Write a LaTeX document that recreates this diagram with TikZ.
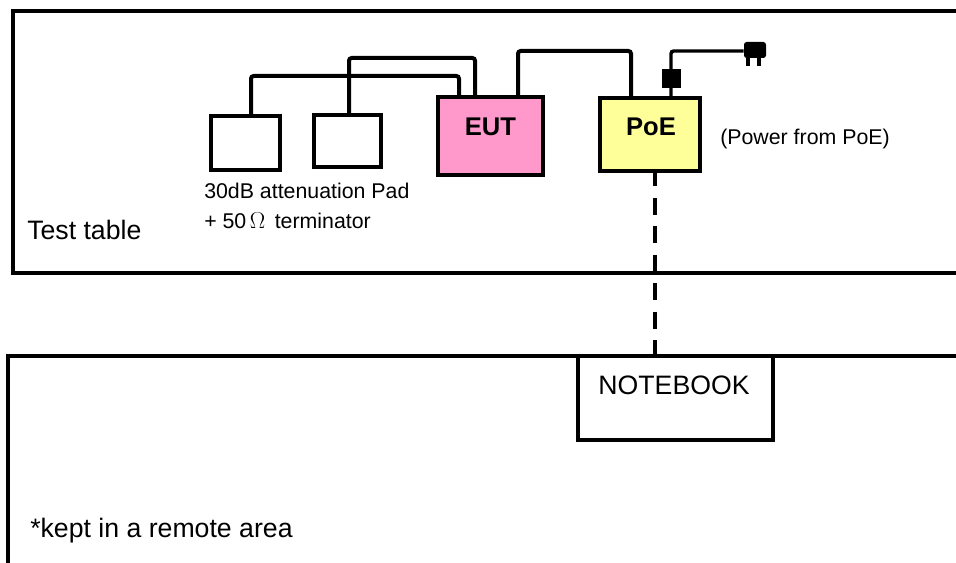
\documentclass[tikz,border=0pt]{standalone}
\usepackage{fontspec}
\setmainfont{Liberation Sans}
\usetikzlibrary{arrows.meta,positioning,calc}
\definecolor{eutpink}{HTML}{FF99CC}
\definecolor{poeyellow}{HTML}{FFFF99}

\begin{document}
\begin{tikzpicture}[
    x=0.75pt, y=-0.75pt,
    frame/.style={draw=black, line width=3pt},
    box/.style={draw=black, line width=3pt, inner sep=0pt},
    cable/.style={draw=black, line width=3pt, rounded corners=2pt},
    powercord/.style={draw=black, line width=2.6pt, rounded corners=2pt},
    dashcable/.style={draw=black, line width=2.8pt, dash pattern=on 12.75pt off 8.6pt, dash phase=2.75pt},
    bigtext/.style={font=\fontsize{20pt}{23pt}\selectfont, anchor=base west, inner sep=0pt},
    smalltext/.style={font=\fontsize{16pt}{19pt}\selectfont, anchor=base west, inner sep=0pt},
    boxtitle/.style={font=\fontsize{19.2pt}{23pt}\selectfont\bfseries, anchor=base, inner sep=0pt}
]
    \useasboundingbox (0,0) rectangle (956,563);

    % Frames
    \draw[frame] (12.5,11.5) rectangle (1000,273);
    \draw[frame] (7.5,356) rectangle (1000,600);
    \node[bigtext] (tablelabel) at (27,239) {Test table};
    \node[bigtext] (remotelabel) at (30,537) {*kept in a remote area};

    % Boxes
    \node[box, minimum width=51.4pt, minimum height=40.5pt] (pada) at (245.25,143) {};
    \node[box, minimum width=50.25pt, minimum height=39pt] (padb) at (347.5,141) {};
    \node[box, fill=eutpink, minimum width=78.75pt, minimum height=58.5pt] (eut) at (490.5,136) {};
    \node[box, fill=poeyellow, minimum width=75pt, minimum height=54.75pt] (poe) at (650,134.5) {};
    \node[box, fill=white, minimum width=146.25pt, minimum height=63pt] (notebook) at (675.5,398) {};

    % Box texts
    \node[boxtitle] (euttitle) at (490.5,136) {EUT};
    \node[boxtitle] (poetitle) at (651,136) {PoE};
    \node[bigtext, anchor=base] (notebooktitle) at (674,394) {NOTEBOOK};
    \node[smalltext] (powerlabel) at (720,145) {(Power from PoE)};
    \node[smalltext] (padlabel) at (204,199) {30dB attenuation Pad};
    \node[smalltext] (termlabel) at (204,228) {+ 50\,$\Omega$\, terminator};

    % Cables
    \coordinate (bendaa) at (251,76);
    \coordinate (bendab) at (459,76);
    \coordinate (bendba) at (349,58);
    \coordinate (bendbb) at (475,58);
    \coordinate (bendca) at (518,51);
    \coordinate (bendcb) at (631,51);
    \draw[cable] (pada.north -| bendaa) -- (bendaa) -- (bendab) -- (eut.north -| bendab);
    \draw[cable] (padb.north -| bendba) -- (bendba) -- (bendbb) -- (eut.north -| bendbb);
    \draw[cable] (eut.north -| bendca) -- (bendca) -- (bendcb) -- (poe.north -| bendcb);

    % Power plug
    \coordinate (bendd) at (671,51);
    \node[fill=black, inner sep=0pt, minimum width=14.25pt, minimum height=14.25pt] (adapter) at (671.5,78.5) {};
    \node[fill=black, rounded corners=2pt, inner sep=0pt, minimum width=16.5pt, minimum height=12pt] (plug) at (755,50) {};
    \node[fill=black, inner sep=0pt, minimum width=3pt, minimum height=6pt, below=-0.5pt of plug.south, xshift=-5pt] (prongl) {};
    \node[fill=black, inner sep=0pt, minimum width=3pt, minimum height=6pt, below=-0.5pt of plug.south, xshift=3pt] (prongr) {};
    \draw[powercord] (poe.north -| bendd) -- (bendd) -- (plug.west |- bendd);

    % Link to the notebook
    \coordinate (dashx) at (655,0);
    \draw[dashcable] (poe.south -| dashx) -- (notebook.north -| dashx);
\end{tikzpicture}
\end{document}
